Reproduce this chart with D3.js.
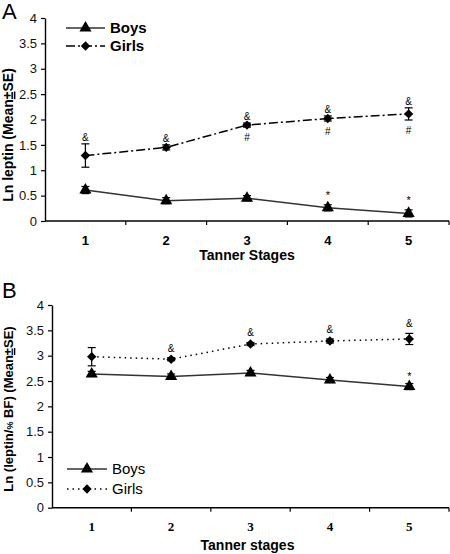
<!DOCTYPE html>
<html><head><meta charset="utf-8">
<script src="https://cdn.jsdelivr.net/npm/d3@7"></script>
<style>body{margin:0;background:#fff}svg{display:block}</style>
</head><body>
<svg id="c" width="450" height="554"></svg>
<script>
// ---- data ----
const stages = [1, 2, 3, 4, 5];
const yTicks = [0, 0.5, 1, 1.5, 2, 2.5, 3, 3.5, 4];

// Panel A: Ln leptin (Mean±SE)
const boysA = [0.61, 0.40, 0.45, 0.26, 0.15];
const boysA_se = [0.07, 0.06, 0.05, 0.06, 0.07];
const girlsA = [1.29, 1.45, 1.89, 2.02, 2.11];
const girlsA_se = [0.23, 0.05, 0.04, 0.05, 0.12];
const girlsA_amp = [1, 1, 1, 1, 1];
const girlsA_hash = [0, 0, 1, 1, 1];
const boysA_star = [0, 0, 0, 1, 1];

// Panel B: Ln (leptin/%BF) (Mean±SE)
const boysB = [2.64, 2.59, 2.66, 2.52, 2.39];
const boysB_se = [0.05, 0.05, 0.05, 0.05, 0.06];
const girlsB = [2.98, 2.93, 3.23, 3.29, 3.33];
const girlsB_se = [0.18, 0.03, 0.03, 0.04, 0.11];
const girlsB_amp = [0, 1, 1, 1, 1];
const boysB_star = [0, 0, 0, 0, 1];

const svg = d3.select("#c");
const SANS = "Arial, 'Liberation Sans', sans-serif";
const SERIF = "'Times New Roman', 'Liberation Serif', serif";
const TRI = 64, DIA = 56;

function drawPanel(cfg) {
  const x = d3.scaleBand().domain(stages).range(cfg.xr).padding(0);
  const y = d3.scaleLinear().domain([0, 4]).range(cfg.yr);
  const cx = d => x(d) + x.bandwidth() / 2;
  const g = svg.append("g");

  // y axis
  const ya = g.append("g").attr("transform", `translate(${cfg.xr[0]},0)`)
    .call(d3.axisLeft(y).tickValues(yTicks).tickFormat(d3.format("")).tickSize(4).tickSizeOuter(0));
  ya.select(".domain").attr("stroke", "#000").attr("stroke-width", 1.4);
  ya.selectAll(".tick line").attr("stroke", "#000").attr("stroke-width", 1.2);
  ya.selectAll(".tick text").attr("font-family", SANS).attr("font-size", 13)
    .attr("fill", "#111").attr("x", -8);

  // x axis
  const y0 = y(0);
  g.append("line").attr("x1", cfg.xr[0]).attr("x2", cfg.xr[1]).attr("y1", y0).attr("y2", y0)
    .attr("stroke", "#000").attr("stroke-width", 1.4);
  const bounds = stages.slice(1).map(d => x(d)).concat([cfg.xr[1]]);
  g.selectAll(".xt").data(bounds).enter().append("line")
    .attr("x1", d => d).attr("x2", d => d).attr("y1", y0).attr("y2", y0 + 4)
    .attr("stroke", "#000").attr("stroke-width", 1.2);
  g.selectAll(".xl").data(stages).enter().append("text")
    .attr("x", cx).attr("y", y0 + cfg.tickDy).attr("text-anchor", "middle")
    .attr("font-family", cfg.xTickFont).attr("font-weight", "bold").attr("font-size", 13)
    .text(d => d);
  g.append("text").attr("x", (cfg.xr[0] + cfg.xr[1]) / 2 + cfg.titleDx).attr("y", y0 + cfg.titleDy)
    .attr("text-anchor", "middle").attr("font-family", SANS).attr("font-weight", "bold")
    .attr("font-size", 14).text(cfg.xTitle);

  // y title
  const yt = g.append("text").attr("transform", `translate(${cfg.yTitleX},${cfg.yTitleY}) rotate(-90)`)
    .attr("text-anchor", "middle").attr("font-family", SANS).attr("font-weight", "bold")
    .attr("font-size", cfg.yTitleSize);
  cfg.yTitle(yt);

  // panel letter
  g.append("text").attr("x", 2).attr("y", cfg.letterY).attr("font-family", SANS)
    .attr("font-size", 22).text(cfg.letter);

  const line = d3.line().x((d, i) => cx(stages[i])).y(d => y(d));
  function series(vals, se, dash, marker) {
    g.append("path").datum(vals).attr("d", line).attr("fill", "none")
      .attr("stroke", dash ? "#000" : "#333").attr("stroke-width", 1.5)
      .attr("stroke-dasharray", dash || null);
    vals.forEach((v, i) => {
      const px = cx(stages[i]);
      const t = y(v + se[i]), b = y(v - se[i]);
      g.append("line").attr("x1", px).attr("x2", px).attr("y1", t).attr("y2", b)
        .attr("stroke", "#000").attr("stroke-width", 1.2);
      [t, b].forEach(yy => g.append("line").attr("x1", px - 4).attr("x2", px + 4)
        .attr("y1", yy).attr("y2", yy).attr("stroke", "#000").attr("stroke-width", 1.2));
      g.append("path").attr("transform", `translate(${px},${y(v)})`)
        .attr("d", d3.symbol().type(marker).size(marker === d3.symbolTriangle ? TRI : DIA)())
        .attr("fill", "#000");
    });
  }
  series(cfg.boys, cfg.boysSe, null, d3.symbolTriangle);
  series(cfg.girls, cfg.girlsSe, cfg.girlsDash, d3.symbolDiamond2);

  function annot(flags, vals, se, txt, dy, above, font, size) {
    flags.forEach((f, i) => {
      if (!f) return;
      const yy = above ? y(vals[i] + se[i]) + dy : y(vals[i] - se[i]) + dy;
      g.append("text").attr("x", cx(stages[i])).attr("y", yy).attr("text-anchor", "middle")
        .attr("font-family", font).attr("font-size", size).text(txt);
    });
  }
  cfg.annots.forEach(a => annot(...a));

  // legend
  const L = cfg.legend;
  [[cfg.boysLabel, null, d3.symbolTriangle, "#333"], [cfg.girlsLabel, cfg.girlsDash, d3.symbolDiamond2, "#000"]]
    .forEach((r, i) => {
      const ly = L.y + i * L.dy;
      g.append("line").attr("x1", L.x0).attr("x2", L.x1).attr("y1", ly).attr("y2", ly)
        .attr("stroke", r[3]).attr("stroke-width", 1.5).attr("stroke-dasharray", r[1]);
      g.append("path").attr("transform", `translate(${(L.x0 + L.x1) / 2},${ly})`)
        .attr("d", d3.symbol().type(r[2]).size(r[2] === d3.symbolTriangle ? TRI : DIA)()).attr("fill", "#000");
      g.append("text").attr("x", L.x1 + 5).attr("y", ly + 5).attr("font-family", SANS)
        .attr("font-weight", L.bold ? "bold" : "normal").attr("font-size", 15).text(r[0]);
    });
}

drawPanel({
  letter: "A", letterY: 19,
  xr: [45, 449], yr: [221, 18],
  boys: boysA, boysSe: boysA_se, girls: girlsA, girlsSe: girlsA_se,
  girlsDash: "9,3,2,3",
  boysLabel: "Boys", girlsLabel: "Girls",
  xTickFont: SANS, tickDy: 24, xTitle: "Tanner Stages", titleDx: 0, titleDy: 39,
  yTitleX: 13, yTitleY: 135, yTitleSize: 14,
  yTitle: t => { t.append("tspan").text("Ln leptin (Mean"); t.append("tspan").attr("text-decoration", "underline").text("±"); t.append("tspan").text("SE)"); },
  legend: { x0: 66, x1: 105, y: 28, dy: 18, bold: true },
  annots: [
    [girlsA_amp, girlsA, girlsA_se, "&", -3, true, SANS, 10],
    [girlsA_hash, girlsA, girlsA_se, "#", 14, false, SANS, 10],
    [boysA_star, boysA, boysA_se, "*", -6, true, SANS, 11]
  ]
});

drawPanel({
  letter: "B", letterY: 298,
  xr: [52, 449], yr: [507.7, 305],
  boys: boysB, boysSe: boysB_se, girls: girlsB, girlsSe: girlsB_se,
  girlsDash: "1.5,4",
  boysLabel: "Boys", girlsLabel: "Girls",
  xTickFont: SERIF, tickDy: 23, xTitle: "Tanner stages", titleDx: -3, titleDy: 42,
  yTitleX: 13, yTitleY: 409, yTitleSize: 13,
  yTitle: t => { t.append("tspan").text("Ln (leptin/"); t.append("tspan").attr("font-size", 9).text("%"); t.append("tspan").text(" BF) (Mean"); t.append("tspan").attr("text-decoration", "underline").text("±"); t.append("tspan").text("SE)"); },
  legend: { x0: 67, x1: 107, y: 469, dy: 20, bold: false },
  annots: [
    [girlsB_amp, girlsB, girlsB_se, "&", -6, true, SANS, 10],
    [boysB_star, boysB, boysB_se, "*", -4, true, SANS, 11]
  ]
});
</script>
</body></html>
